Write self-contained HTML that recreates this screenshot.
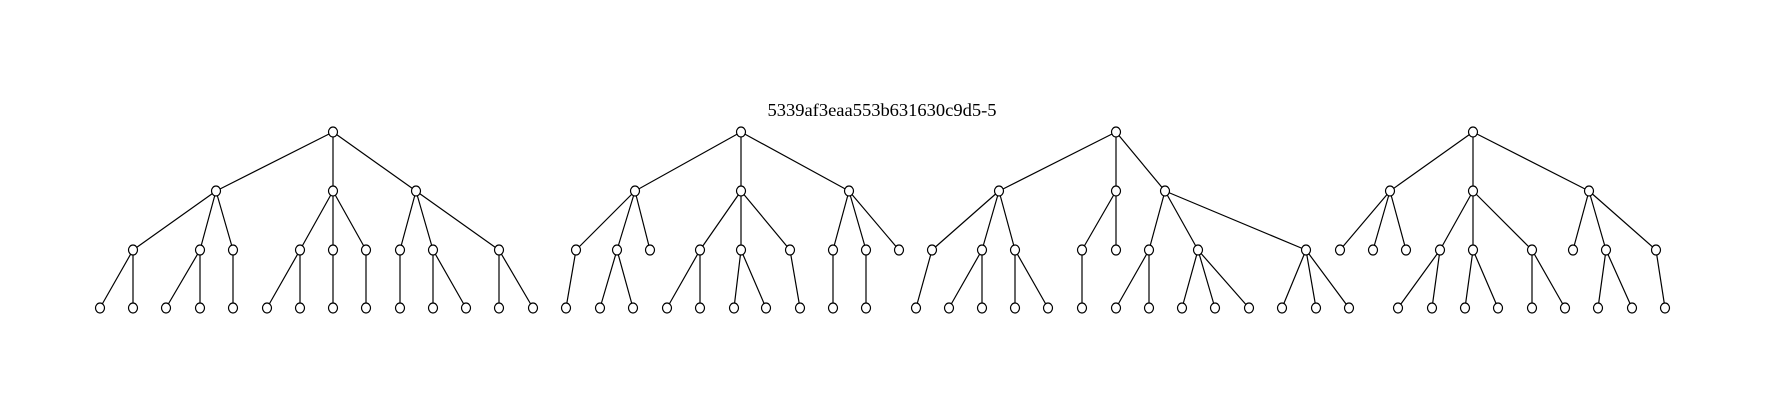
<!DOCTYPE html>
<html><head><meta charset="utf-8"><style>html,body{margin:0;padding:0;background:#fff}svg{display:block}</style></head>
<body>
<svg width="1765" height="409" viewBox="0 0 1765 409" xmlns="http://www.w3.org/2000/svg">
<rect width="1765" height="409" fill="#fff"/>
<text x="882" y="116" text-anchor="middle" font-family="Liberation Serif, serif" font-size="18" textLength="229" lengthAdjust="spacingAndGlyphs" fill="#000">5339af3eaa553b631630c9d5-5</text>
<g stroke="#000" stroke-width="1.2" fill="none">
<!-- tree1 -->
<path d="M333,132L216,191M333,132L333,191M333,132L416,191
M216,191L133,250M216,191L200,250M216,191L233,250
M333,191L300,250M333,191L333,250M333,191L366,250
M416,191L400,250M416,191L433,250M416,191L499,250
M133,250L100,308M133,250L133,308M200,250L166,308M200,250L200,308M233,250L233,308
M300,250L267,308M300,250L300,308M333,250L333,308M366,250L366,308
M400,250L400,308M433,250L433,308M433,250L466,308M499,250L499,308M499,250L533,308"/>
<!-- tree2 -->
<path d="M741,132L635,191M741,132L741,191M741,132L849,191
M635,191L576,250M635,191L617,250M635,191L650,250
M741,191L700,250M741,191L741,250M741,191L790,250
M849,191L833,250M849,191L866,250M849,191L899,250
M576,250L566,308M617,250L600,308M617,250L633,308
M700,250L667,308M700,250L700,308M741,250L734,308M741,250L766,308M790,250L800,308
M833,250L833,308M866,250L866,308"/>
<!-- tree3 -->
<path d="M1116,132L999,191M1116,132L1116,191M1116,132L1165,191
M999,191L932,250M999,191L982,250M999,191L1015,250
M1116,191L1082,250M1116,191L1116,250
M1165,191L1149,250M1165,191L1198,250M1165,191L1306,250
M932,250L916,308M982,250L949,308M982,250L982,308M1015,250L1015,308M1015,250L1048,308
M1082,250L1082,308
M1149,250L1116,308M1149,250L1149,308
M1198,250L1182,308M1198,250L1215,308M1198,250L1249,308
M1306,250L1282,308M1306,250L1316,308M1306,250L1349,308"/>
<!-- tree4 -->
<path d="M1473,132L1390,191M1473,132L1473,191M1473,132L1589,191
M1390,191L1340,250M1390,191L1373,250M1390,191L1406,250
M1473,191L1440,250M1473,191L1473,250M1473,191L1532,250
M1589,191L1573,250M1589,191L1606,250M1589,191L1656,250
M1440,250L1398,308M1440,250L1432,308M1473,250L1465,308M1473,250L1498,308
M1532,250L1532,308M1532,250L1565,308
M1606,250L1598,308M1606,250L1632,308M1656,250L1665,308"/>
</g>
<g stroke="#000" stroke-width="1.2" fill="#fff">
<!-- tree1 nodes -->
<ellipse cx="333" cy="132" rx="4.5" ry="5"/>
<ellipse cx="216" cy="191" rx="4.5" ry="5"/><ellipse cx="333" cy="191" rx="4.5" ry="5"/><ellipse cx="416" cy="191" rx="4.5" ry="5"/>
<ellipse cx="133" cy="250" rx="4.5" ry="5"/><ellipse cx="200" cy="250" rx="4.5" ry="5"/><ellipse cx="233" cy="250" rx="4.5" ry="5"/><ellipse cx="300" cy="250" rx="4.5" ry="5"/><ellipse cx="333" cy="250" rx="4.5" ry="5"/><ellipse cx="366" cy="250" rx="4.5" ry="5"/><ellipse cx="400" cy="250" rx="4.5" ry="5"/><ellipse cx="433" cy="250" rx="4.5" ry="5"/><ellipse cx="499" cy="250" rx="4.5" ry="5"/>
<ellipse cx="100" cy="308" rx="4.5" ry="5"/><ellipse cx="133" cy="308" rx="4.5" ry="5"/><ellipse cx="166" cy="308" rx="4.5" ry="5"/><ellipse cx="200" cy="308" rx="4.5" ry="5"/><ellipse cx="233" cy="308" rx="4.5" ry="5"/><ellipse cx="267" cy="308" rx="4.5" ry="5"/><ellipse cx="300" cy="308" rx="4.5" ry="5"/><ellipse cx="333" cy="308" rx="4.5" ry="5"/><ellipse cx="366" cy="308" rx="4.5" ry="5"/><ellipse cx="400" cy="308" rx="4.5" ry="5"/><ellipse cx="433" cy="308" rx="4.5" ry="5"/><ellipse cx="466" cy="308" rx="4.5" ry="5"/><ellipse cx="499" cy="308" rx="4.5" ry="5"/><ellipse cx="533" cy="308" rx="4.5" ry="5"/>
<!-- tree2 nodes -->
<ellipse cx="741" cy="132" rx="4.5" ry="5"/>
<ellipse cx="635" cy="191" rx="4.5" ry="5"/><ellipse cx="741" cy="191" rx="4.5" ry="5"/><ellipse cx="849" cy="191" rx="4.5" ry="5"/>
<ellipse cx="576" cy="250" rx="4.5" ry="5"/><ellipse cx="617" cy="250" rx="4.5" ry="5"/><ellipse cx="650" cy="250" rx="4.5" ry="5"/><ellipse cx="700" cy="250" rx="4.5" ry="5"/><ellipse cx="741" cy="250" rx="4.5" ry="5"/><ellipse cx="790" cy="250" rx="4.5" ry="5"/><ellipse cx="833" cy="250" rx="4.5" ry="5"/><ellipse cx="866" cy="250" rx="4.5" ry="5"/><ellipse cx="899" cy="250" rx="4.5" ry="5"/>
<ellipse cx="566" cy="308" rx="4.5" ry="5"/><ellipse cx="600" cy="308" rx="4.5" ry="5"/><ellipse cx="633" cy="308" rx="4.5" ry="5"/><ellipse cx="667" cy="308" rx="4.5" ry="5"/><ellipse cx="700" cy="308" rx="4.5" ry="5"/><ellipse cx="734" cy="308" rx="4.5" ry="5"/><ellipse cx="766" cy="308" rx="4.5" ry="5"/><ellipse cx="800" cy="308" rx="4.5" ry="5"/><ellipse cx="833" cy="308" rx="4.5" ry="5"/><ellipse cx="866" cy="308" rx="4.5" ry="5"/>
<!-- tree3 nodes -->
<ellipse cx="1116" cy="132" rx="4.5" ry="5"/>
<ellipse cx="999" cy="191" rx="4.5" ry="5"/><ellipse cx="1116" cy="191" rx="4.5" ry="5"/><ellipse cx="1165" cy="191" rx="4.5" ry="5"/>
<ellipse cx="932" cy="250" rx="4.5" ry="5"/><ellipse cx="982" cy="250" rx="4.5" ry="5"/><ellipse cx="1015" cy="250" rx="4.5" ry="5"/><ellipse cx="1082" cy="250" rx="4.5" ry="5"/><ellipse cx="1116" cy="250" rx="4.5" ry="5"/><ellipse cx="1149" cy="250" rx="4.5" ry="5"/><ellipse cx="1198" cy="250" rx="4.5" ry="5"/><ellipse cx="1306" cy="250" rx="4.5" ry="5"/>
<ellipse cx="916" cy="308" rx="4.5" ry="5"/><ellipse cx="949" cy="308" rx="4.5" ry="5"/><ellipse cx="982" cy="308" rx="4.5" ry="5"/><ellipse cx="1015" cy="308" rx="4.5" ry="5"/><ellipse cx="1048" cy="308" rx="4.5" ry="5"/><ellipse cx="1082" cy="308" rx="4.5" ry="5"/><ellipse cx="1116" cy="308" rx="4.5" ry="5"/><ellipse cx="1149" cy="308" rx="4.5" ry="5"/><ellipse cx="1182" cy="308" rx="4.5" ry="5"/><ellipse cx="1215" cy="308" rx="4.5" ry="5"/><ellipse cx="1249" cy="308" rx="4.5" ry="5"/><ellipse cx="1282" cy="308" rx="4.5" ry="5"/><ellipse cx="1316" cy="308" rx="4.5" ry="5"/><ellipse cx="1349" cy="308" rx="4.5" ry="5"/>
<!-- tree4 nodes -->
<ellipse cx="1473" cy="132" rx="4.5" ry="5"/>
<ellipse cx="1390" cy="191" rx="4.5" ry="5"/><ellipse cx="1473" cy="191" rx="4.5" ry="5"/><ellipse cx="1589" cy="191" rx="4.5" ry="5"/>
<ellipse cx="1340" cy="250" rx="4.5" ry="5"/><ellipse cx="1373" cy="250" rx="4.5" ry="5"/><ellipse cx="1406" cy="250" rx="4.5" ry="5"/><ellipse cx="1440" cy="250" rx="4.5" ry="5"/><ellipse cx="1473" cy="250" rx="4.5" ry="5"/><ellipse cx="1532" cy="250" rx="4.5" ry="5"/><ellipse cx="1573" cy="250" rx="4.5" ry="5"/><ellipse cx="1606" cy="250" rx="4.5" ry="5"/><ellipse cx="1656" cy="250" rx="4.5" ry="5"/>
<ellipse cx="1398" cy="308" rx="4.5" ry="5"/><ellipse cx="1432" cy="308" rx="4.5" ry="5"/><ellipse cx="1465" cy="308" rx="4.5" ry="5"/><ellipse cx="1498" cy="308" rx="4.5" ry="5"/><ellipse cx="1532" cy="308" rx="4.5" ry="5"/><ellipse cx="1565" cy="308" rx="4.5" ry="5"/><ellipse cx="1598" cy="308" rx="4.5" ry="5"/><ellipse cx="1632" cy="308" rx="4.5" ry="5"/><ellipse cx="1665" cy="308" rx="4.5" ry="5"/>
</g>
</svg>
</body></html>
